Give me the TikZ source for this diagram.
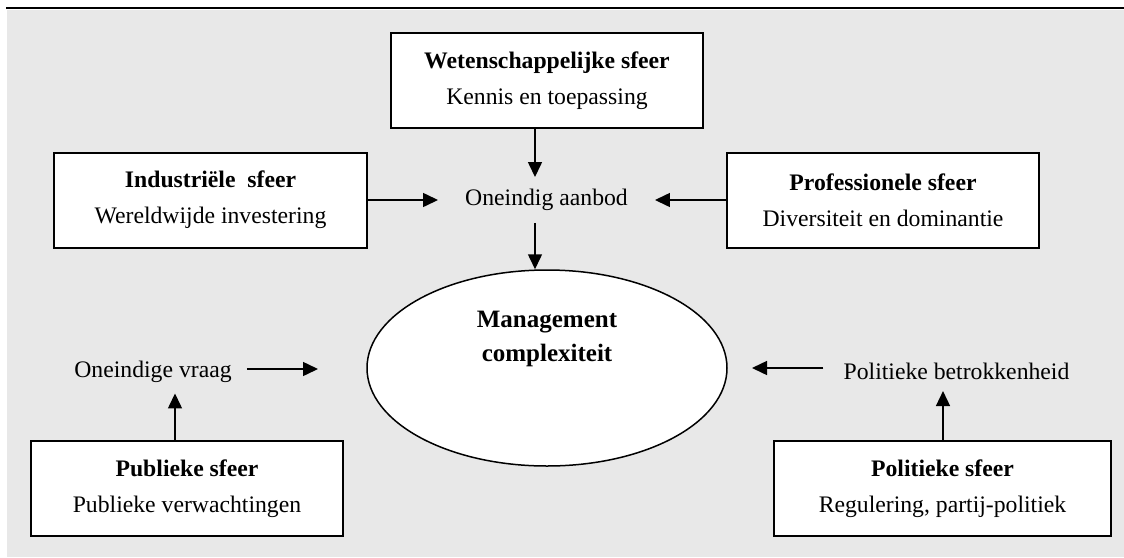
\documentclass[tikz,border=0pt]{standalone}
\usepackage{fontspec}
\setmainfont{Liberation Serif}
\usetikzlibrary{arrows.meta,shapes.geometric}
\definecolor{panelgray}{HTML}{E8E8E8}
\begin{document}
\begin{tikzpicture}[x=1pt,y=-1pt,
  txt/.style={font=\fontsize{23.7}{36}\selectfont, align=center},
  sphere/.style={txt, draw, line width=2pt, fill=white, minimum width=#1, minimum height=95pt, inner sep=0pt},
  freetext/.style={txt, inner ysep=12pt},
  arr/.style={line width=1.5pt, -{Triangle[length=15pt,width=14pt]}},
]
\useasboundingbox (0,0) rectangle (1124,557);
% panel and rule
\fill[panelgray] (7,10) rectangle (1124,557);
\draw[line width=2.6pt] (6,8) -- (1124,8);

% outer spheres
\node[sphere=312] (wet) at (547,80.5) {\textbf{Wetenschappelijke sfeer}\\ Kennis en toepassing};
\node[sphere=313] (ind) at (210.5,200) {\textbf{Industriële~ sfeer}\\ Wereldwijde investering};
\node[sphere=312] (pro) at (883,200) {\textbf{Professionele sfeer}\\ Diversiteit en dominantie};
\node[sphere=312] (pub) at (187,488.5) {\textbf{Publieke sfeer}\\ Publieke verwachtingen};
\node[sphere=337] (pol) at (942.5,488.5) {\textbf{Politieke sfeer}\\ Regulering, partij-politiek};

% centre ellipse
\node[ellipse, draw, line width=1.5pt, fill=white, minimum width=360pt, minimum height=196pt,
      label={[name=mgmtText, txt, font=\fontsize{25}{34}\selectfont\bfseries, yshift=29pt]center:Management\\ complexiteit}]
      (mgmt) at (547,368) {};

% intermediate labels
\node[freetext, inner xsep=27pt] (aanbod) at (546.5,200) {Oneindig aanbod};
\node[freetext, inner xsep=15pt, inner ysep=11pt] (vraag) at (153,371.5) {Oneindige vraag};
\node[freetext, inner xsep=20pt, inner ysep=11pt] (betrok) at (956.5,371.5) {Politieke betrokkenheid};

% helper coordinates for connector positions
\coordinate (ax) at (535,0);
\coordinate (px) at (175,0);
\coordinate (qx) at (943,0);
\coordinate (vt) at (318,369);
\coordinate (bt) at (752,368);

% connectors
\draw[arr] (wet.south -| ax) -- (aanbod.north -| ax);
\draw[arr] (ind.east) -- (aanbod.west |- ind.east);
\draw[arr] (pro.west) -- (aanbod.east |- pro.west);
\draw[arr] (aanbod.south -| ax) -- (mgmt.north -| ax);
\draw[arr] (pub.north -| px) -- (vraag.south -| px);
\draw[arr] (vraag.east |- vt) -- (vt);
\draw[arr] (pol.north -| qx) -- (betrok.south -| qx);
\draw[arr] (betrok.west |- bt) -- (bt);
\end{tikzpicture}
\end{document}
